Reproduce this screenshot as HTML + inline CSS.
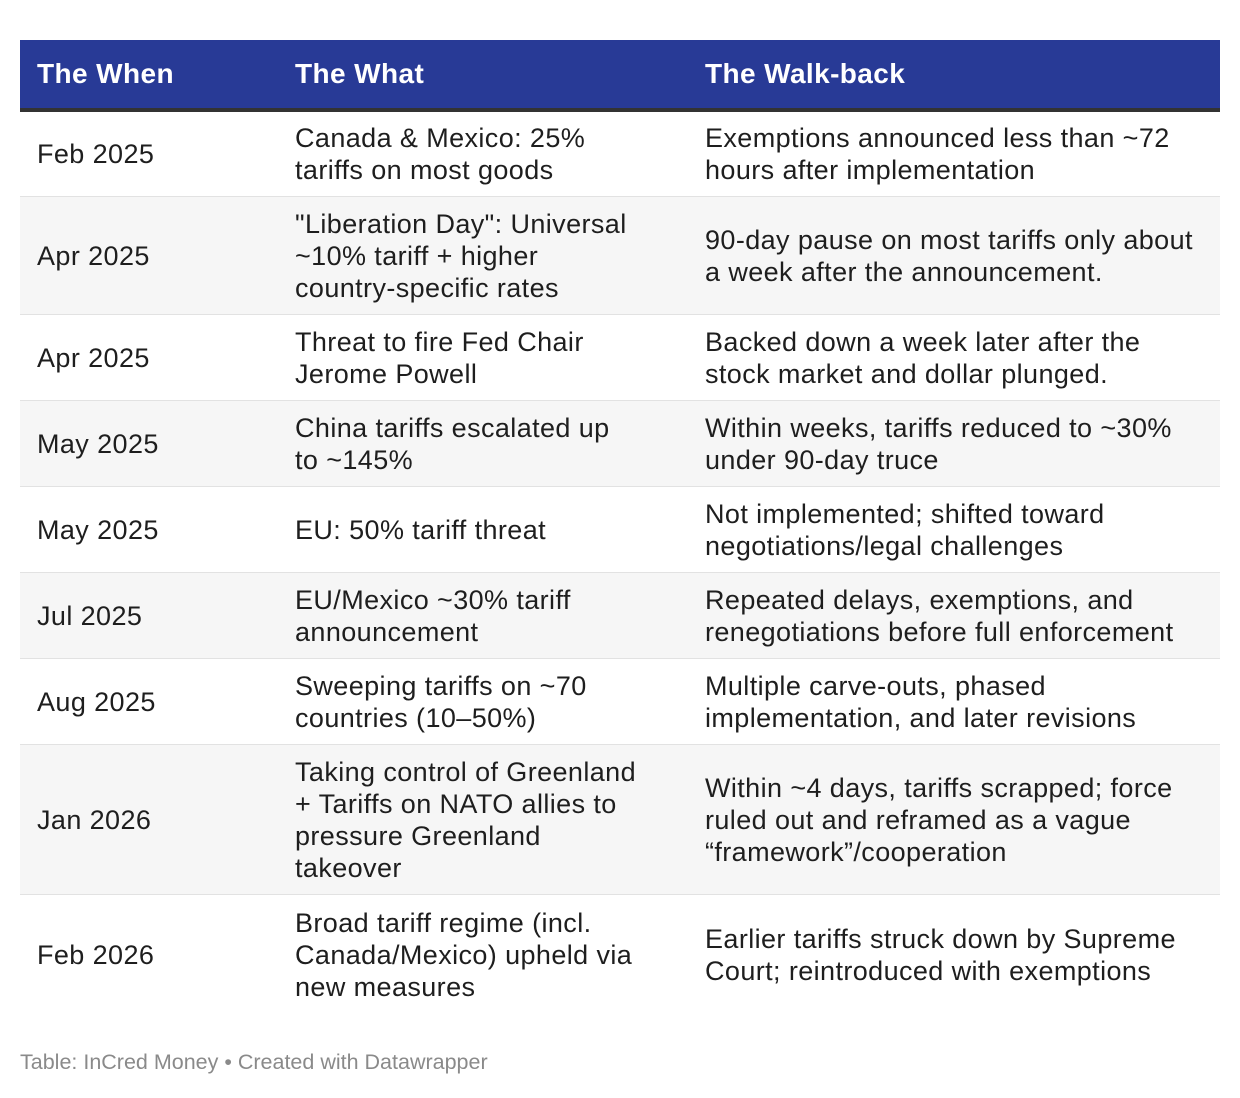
<!DOCTYPE html>
<html><head><meta charset="utf-8"><style>
*{margin:0;padding:0;box-sizing:border-box}
body{width:1240px;height:1098px;background:#fff;font-family:"Liberation Sans",Arial,sans-serif;color:#1e1e1e;position:relative;overflow:hidden}
.tbl{position:absolute;left:20px;top:40px;width:1200px}
.hdr{height:72px;background:#283a96;border-bottom:4px solid #333;display:flex;align-items:center;color:#fff;font-weight:bold;font-size:28px;letter-spacing:0.4px}
.row{display:flex;align-items:center;border-bottom:1px solid #e2e2e2;font-size:27px;line-height:32px;letter-spacing:0.4px}
.row.g{background:#f6f6f6}
.c1{position:absolute;left:17px;white-space:nowrap}
.c2{position:absolute;left:275px;white-space:nowrap}
.c3{position:absolute;left:685px;white-space:nowrap}
.row,.hdr{position:relative}
.foot{position:absolute;left:20px;top:1050px;font-size:21.5px;color:#8a8a8a}
</style></head><body>
<div class="tbl">
<div class="hdr">
<span class="c1">The When</span>
<span class="c2">The What</span>
<span class="c3">The Walk-back</span>
</div>
<div class="row" style="height:85px">
<div class="c1">Feb 2025</div><div class="c2">Canada &amp; Mexico: 25%<br>tariffs on most goods</div><div class="c3">Exemptions announced less than ~72<br>hours after implementation</div></div>
<div class="row g" style="height:118px">
<div class="c1">Apr 2025</div><div class="c2">"Liberation Day": Universal<br>~10% tariff + higher<br>country-specific rates</div><div class="c3">90-day pause on most tariffs only about<br>a week after the announcement.</div></div>
<div class="row" style="height:86px">
<div class="c1">Apr 2025</div><div class="c2">Threat to fire Fed Chair<br>Jerome Powell</div><div class="c3">Backed down a week later after the<br>stock market and dollar plunged.</div></div>
<div class="row g" style="height:86px">
<div class="c1">May 2025</div><div class="c2">China tariffs escalated up<br>to ~145%</div><div class="c3">Within weeks, tariffs reduced to ~30%<br>under 90-day truce</div></div>
<div class="row" style="height:86px">
<div class="c1">May 2025</div><div class="c2">EU: 50% tariff threat</div><div class="c3">Not implemented; shifted toward<br>negotiations/legal challenges</div></div>
<div class="row g" style="height:86px">
<div class="c1">Jul 2025</div><div class="c2">EU/Mexico ~30% tariff<br>announcement</div><div class="c3">Repeated delays, exemptions, and<br>renegotiations before full enforcement</div></div>
<div class="row" style="height:86px">
<div class="c1">Aug 2025</div><div class="c2">Sweeping tariffs on ~70<br>countries (10–50%)</div><div class="c3">Multiple carve-outs, phased<br>implementation, and later revisions</div></div>
<div class="row g" style="height:150px">
<div class="c1">Jan 2026</div><div class="c2">Taking control of Greenland<br>+ Tariffs on NATO allies to<br>pressure Greenland<br>takeover</div><div class="c3">Within ~4 days, tariffs scrapped; force<br>ruled out and reframed as a vague<br>“framework”/cooperation</div></div>
<div class="row" style="height:120px;border-bottom:none">
<div class="c1">Feb 2026</div><div class="c2">Broad tariff regime (incl.<br>Canada/Mexico) upheld via<br>new measures</div><div class="c3">Earlier tariffs struck down by Supreme<br>Court; reintroduced with exemptions</div></div>
</div>
<div class="foot">Table: InCred Money • Created with Datawrapper</div>
</body></html>
